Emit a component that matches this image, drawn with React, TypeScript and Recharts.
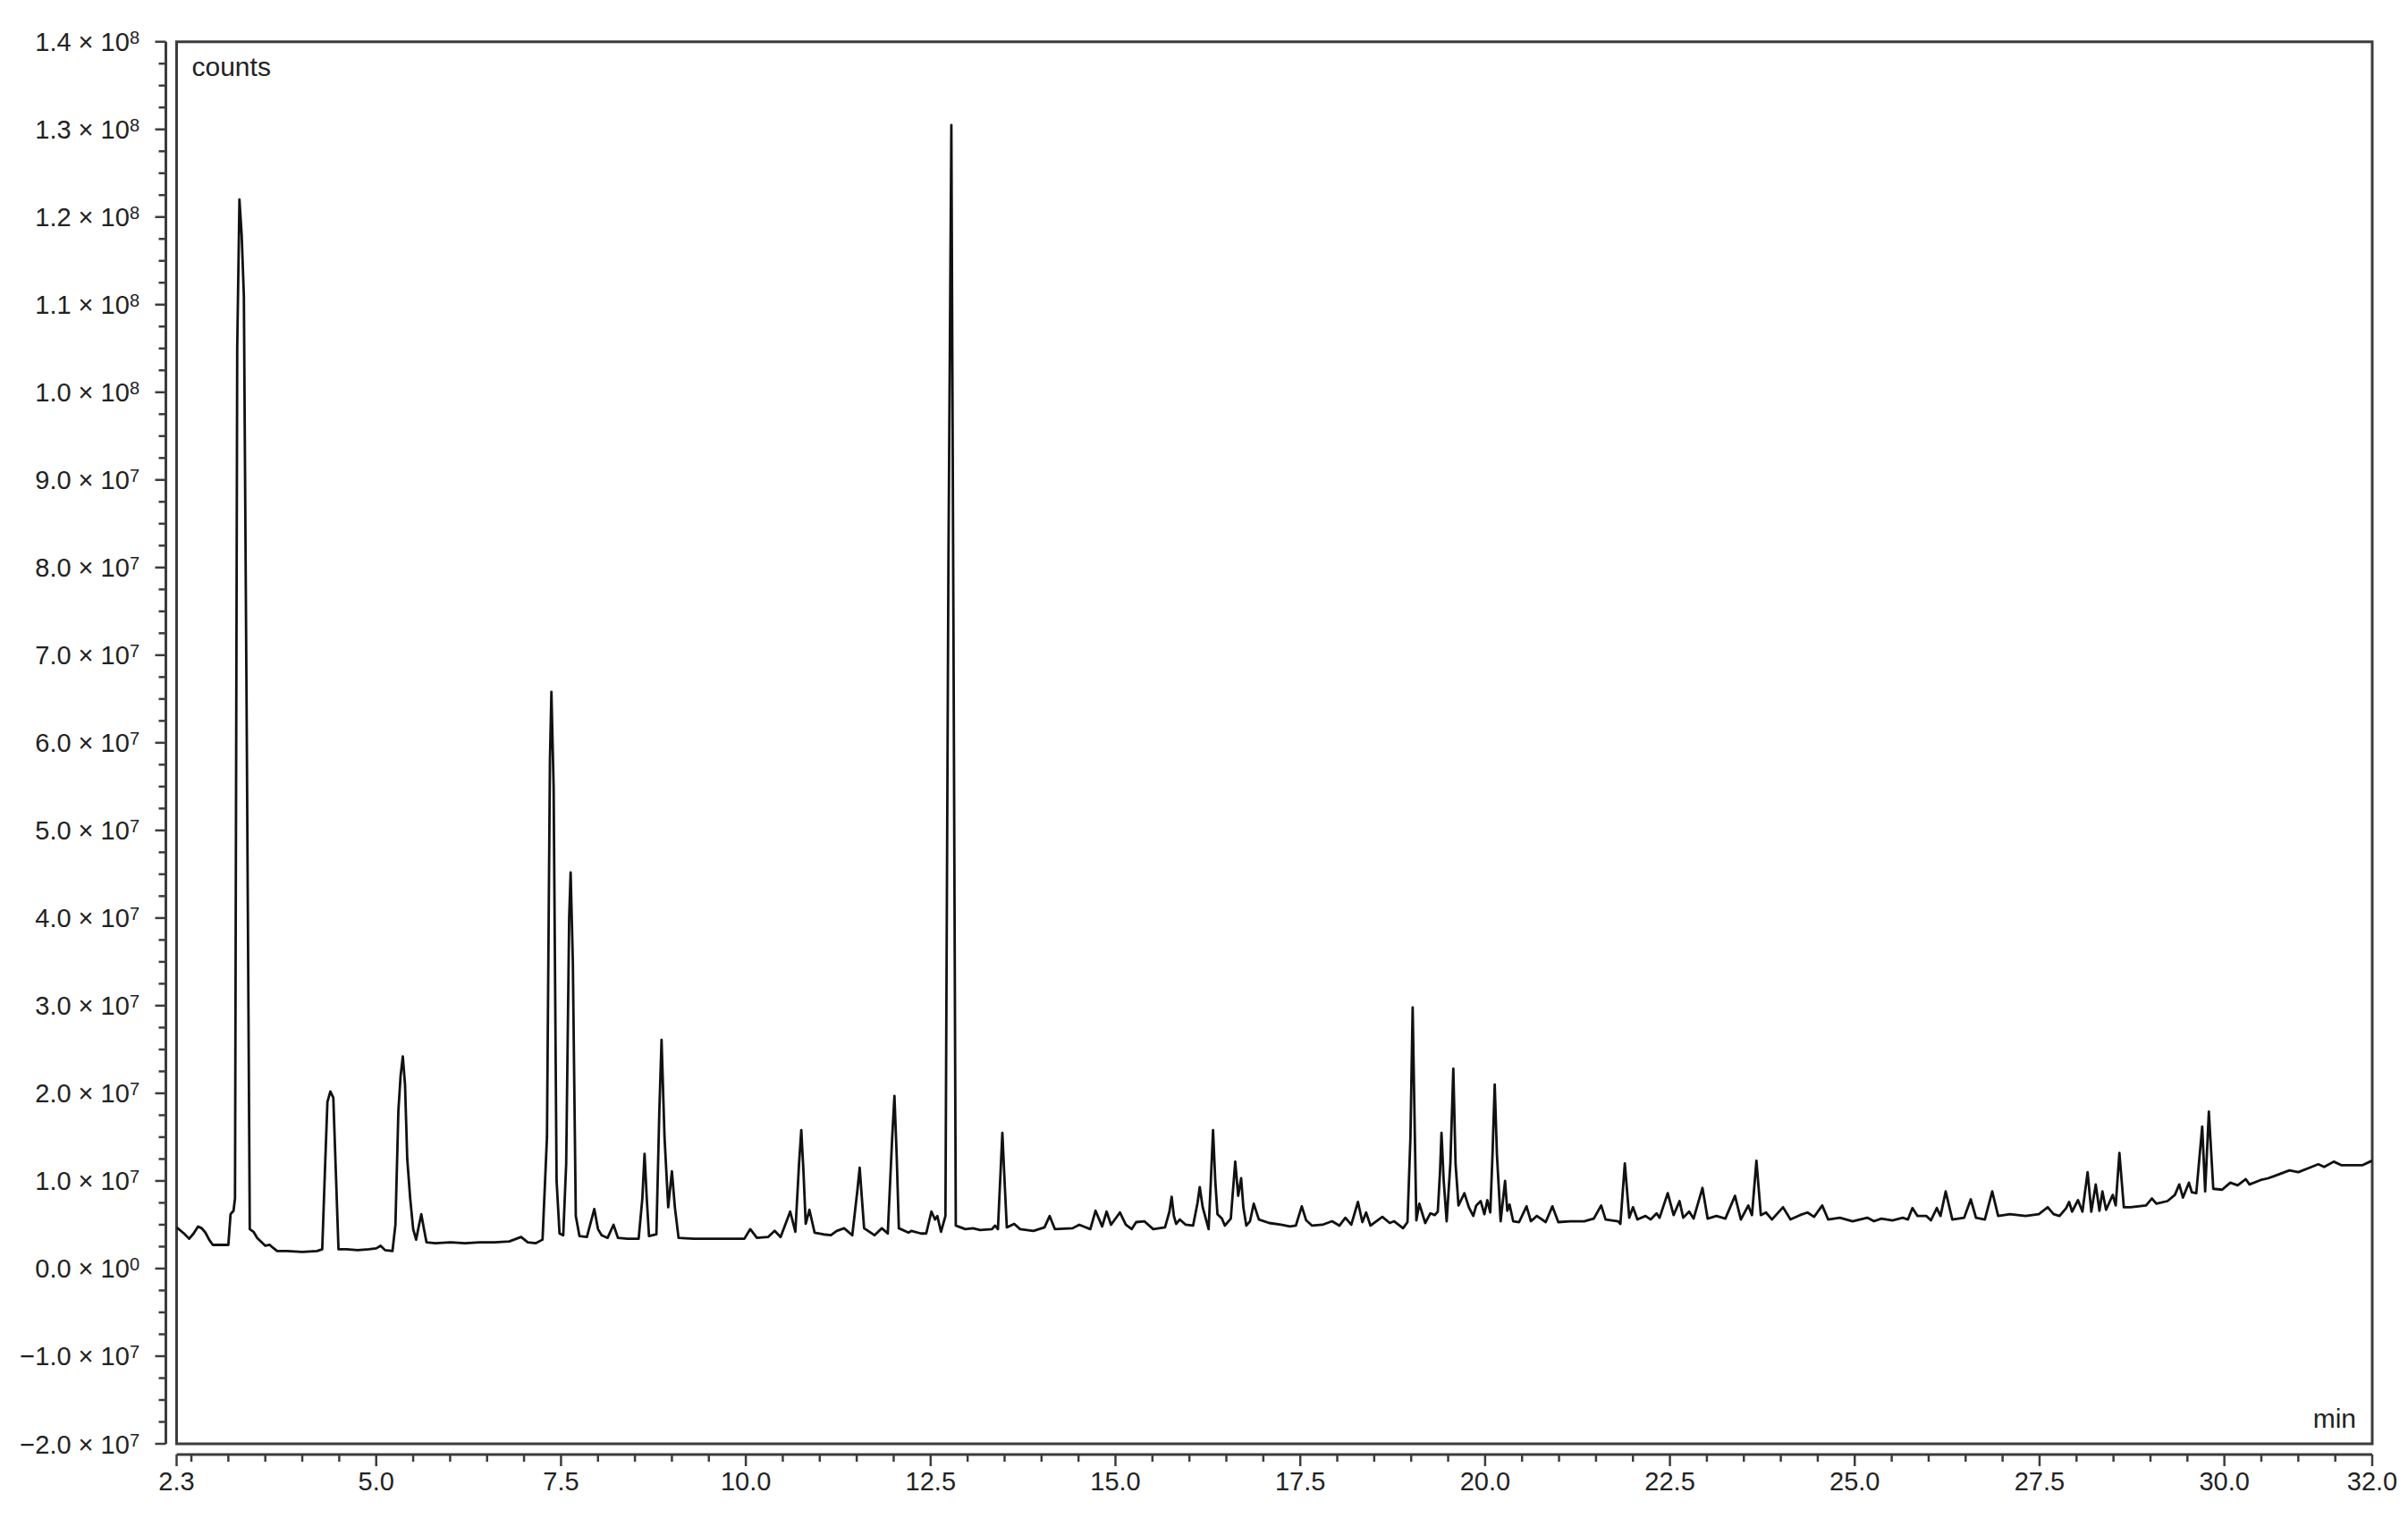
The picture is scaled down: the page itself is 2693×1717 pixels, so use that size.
import React from 'react';
import { LineChart, Line, XAxis, YAxis, ReferenceArea, Label } from 'recharts';

// retention time (min)
const times = [
  2.3, 2.4, 2.47, 2.53, 2.59, 2.64, 2.69, 2.74, 2.79, 2.9, 3.0, 3.03, 3.07, 3.09, 3.12, 3.15, 3.18, 3.21, 3.25, 3.29,
  3.34, 3.39, 3.45, 3.5, 3.56, 3.6, 3.66, 3.8, 4.0, 4.2, 4.27, 4.31, 4.34, 4.38, 4.42, 4.45, 4.49, 4.6, 4.75, 4.9,
  5.0, 5.06, 5.12, 5.22, 5.26, 5.3, 5.33, 5.36, 5.39, 5.42, 5.46, 5.5, 5.54, 5.58, 5.61, 5.64, 5.68, 5.8, 6.0, 6.2,
  6.4, 6.6, 6.8, 6.96, 7.05, 7.16, 7.25, 7.31, 7.35, 7.37, 7.4, 7.44, 7.48, 7.53, 7.57, 7.61, 7.63, 7.66, 7.7, 7.75,
  7.85, 7.95, 8.0, 8.05, 8.13, 8.21, 8.27, 8.4, 8.55, 8.6, 8.63, 8.66, 8.69, 8.79, 8.83, 8.86, 8.9, 8.95, 9.0, 9.04,
  9.09, 9.3, 9.5, 9.7, 9.98, 10.06, 10.15, 10.3, 10.39, 10.47, 10.6, 10.67, 10.72, 10.75, 10.78, 10.81, 10.86, 10.93, 11.05, 11.15,
  11.23, 11.33, 11.44, 11.51, 11.54, 11.57, 11.6, 11.74, 11.84, 11.92, 11.98, 12.01, 12.04, 12.07, 12.2, 12.24, 12.37, 12.44, 12.51, 12.56,
  12.59, 12.64, 12.7, 12.74, 12.78, 12.81, 12.84, 12.97, 13.07, 13.17, 13.33, 13.37, 13.41, 13.44, 13.47, 13.5, 13.53, 13.63, 13.71, 13.89,
  14.04, 14.11, 14.18, 14.42, 14.51, 14.66, 14.73, 14.82, 14.88, 14.94, 15.06, 15.14, 15.22, 15.28, 15.39, 15.51, 15.67, 15.73, 15.76, 15.79,
  15.82, 15.87, 15.95, 16.05, 16.11, 16.14, 16.18, 16.26, 16.29, 16.32, 16.35, 16.38, 16.44, 16.48, 16.56, 16.62, 16.66, 16.7, 16.73, 16.77,
  16.82, 16.87, 16.94, 17.08, 17.24, 17.36, 17.44, 17.52, 17.58, 17.66, 17.8, 17.93, 18.03, 18.11, 18.19, 18.28, 18.34, 18.39, 18.45, 18.61,
  18.71, 18.77, 18.89, 18.95, 18.99, 19.02, 19.05, 19.07, 19.11, 19.19, 19.26, 19.32, 19.36, 19.39, 19.41, 19.44, 19.48, 19.53, 19.57, 19.6,
  19.64, 19.72, 19.78, 19.84, 19.88, 19.94, 19.99, 20.03, 20.07, 20.1, 20.13, 20.16, 20.21, 20.27, 20.3, 20.33, 20.38, 20.46, 20.56, 20.62,
  20.7, 20.82, 20.91, 20.99, 21.15, 21.34, 21.47, 21.57, 21.63, 21.8, 21.83, 21.89, 21.95, 22.0, 22.06, 22.17, 22.24, 22.32, 22.36, 22.47,
  22.55, 22.63, 22.68, 22.76, 22.82, 22.94, 23.01, 23.13, 23.25, 23.38, 23.46, 23.56, 23.61, 23.67, 23.73, 23.8, 23.88, 24.03, 24.13, 24.26,
  24.36, 24.45, 24.56, 24.64, 24.8, 24.97, 25.17, 25.26, 25.36, 25.51, 25.65, 25.72, 25.78, 25.85, 25.97, 26.03, 26.11, 26.16, 26.23, 26.32,
  26.48, 26.57, 26.64, 26.76, 26.86, 26.94, 27.1, 27.31, 27.49, 27.61, 27.69, 27.77, 27.86, 27.9, 27.94, 28.02, 28.08, 28.15, 28.2, 28.26,
  28.31, 28.35, 28.4, 28.49, 28.53, 28.58, 28.64, 28.73, 28.94, 29.02, 29.08, 29.23, 29.33, 29.39, 29.44, 29.52, 29.56, 29.62, 29.7, 29.74,
  29.79, 29.85, 29.97, 30.08, 30.18, 30.29, 30.34, 30.49, 30.59, 30.72, 30.88, 31.0, 31.15, 31.27, 31.35, 31.48, 31.58, 31.74, 31.87, 31.97,
  32.0,
];

// detector counts, in units of 1e7
const signal = [
  0.47, 0.4, 0.34, 0.4, 0.48, 0.46, 0.41, 0.33, 0.27, 0.27, 0.27, 0.62, 0.66, 0.8, 10.5, 12.2, 11.8, 11.1, 6.0, 0.45,
  0.42, 0.35, 0.3, 0.26, 0.27, 0.24, 0.2, 0.2, 0.19, 0.2, 0.22, 1.2, 1.9, 2.02, 1.95, 1.2, 0.22, 0.22, 0.21, 0.22,
  0.23, 0.26, 0.21, 0.2, 0.5, 1.8, 2.2, 2.42, 2.1, 1.25, 0.8, 0.45, 0.33, 0.5, 0.62, 0.48, 0.3, 0.29, 0.3, 0.29,
  0.3, 0.3, 0.31, 0.36, 0.3, 0.29, 0.33, 1.5, 5.8, 6.58, 5.5, 1.0, 0.4, 0.38, 1.2, 4.0, 4.52, 3.5, 0.6, 0.37,
  0.36, 0.68, 0.45, 0.38, 0.35, 0.5, 0.35, 0.34, 0.34, 0.8, 1.31, 0.8, 0.37, 0.39, 1.8, 2.61, 1.5, 0.7, 1.11, 0.7,
  0.35, 0.34, 0.34, 0.34, 0.34, 0.45, 0.35, 0.36, 0.43, 0.36, 0.65, 0.42, 1.2, 1.58, 1.1, 0.51, 0.67, 0.41, 0.39, 0.38,
  0.43, 0.46, 0.38, 0.9, 1.15, 0.8, 0.46, 0.38, 0.46, 0.4, 1.5, 1.97, 1.3, 0.46, 0.41, 0.43, 0.4, 0.4, 0.65, 0.56,
  0.6, 0.42, 0.6, 8.0, 13.05, 7.0, 0.49, 0.45, 0.46, 0.44, 0.45, 0.49, 0.45, 1.0, 1.55, 1.0, 0.47, 0.51, 0.45, 0.43,
  0.47, 0.6, 0.45, 0.46, 0.5, 0.45, 0.66, 0.48, 0.65, 0.5, 0.64, 0.5, 0.45, 0.53, 0.54, 0.45, 0.47, 0.65, 0.82, 0.6,
  0.51, 0.56, 0.5, 0.49, 0.75, 0.93, 0.7, 0.45, 1.0, 1.58, 1.0, 0.62, 0.57, 0.49, 0.57, 1.22, 0.83, 1.03, 0.7, 0.49,
  0.54, 0.74, 0.56, 0.52, 0.5, 0.48, 0.49, 0.71, 0.55, 0.49, 0.5, 0.54, 0.49, 0.58, 0.5, 0.76, 0.53, 0.64, 0.49, 0.59,
  0.52, 0.54, 0.46, 0.53, 1.5, 2.98, 1.5, 0.55, 0.74, 0.52, 0.63, 0.61, 0.65, 1.1, 1.55, 1.0, 0.54, 1.2, 2.28, 1.2,
  0.72, 0.86, 0.7, 0.6, 0.72, 0.77, 0.62, 0.78, 0.64, 1.3, 2.1, 1.3, 0.54, 1.0, 0.66, 0.73, 0.54, 0.53, 0.71, 0.54,
  0.6, 0.53, 0.71, 0.53, 0.54, 0.54, 0.57, 0.72, 0.56, 0.54, 0.51, 1.2, 0.58, 0.7, 0.56, 0.6, 0.56, 0.63, 0.58, 0.86,
  0.61, 0.77, 0.58, 0.65, 0.57, 0.92, 0.57, 0.6, 0.57, 0.83, 0.56, 0.72, 0.61, 1.23, 0.61, 0.64, 0.56, 0.7, 0.56, 0.61,
  0.64, 0.59, 0.72, 0.56, 0.58, 0.54, 0.58, 0.54, 0.57, 0.55, 0.58, 0.56, 0.69, 0.6, 0.6, 0.55, 0.69, 0.6, 0.88, 0.56,
  0.58, 0.79, 0.58, 0.56, 0.88, 0.6, 0.62, 0.6, 0.62, 0.7, 0.62, 0.6, 0.69, 0.76, 0.65, 0.78, 0.65, 1.1, 0.65, 0.96,
  0.66, 0.88, 0.67, 0.84, 0.72, 1.32, 0.7, 0.7, 0.72, 0.8, 0.74, 0.77, 0.84, 0.96, 0.81, 0.98, 0.87, 0.86, 1.62, 0.88,
  1.79, 0.91, 0.9, 0.98, 0.95, 1.02, 0.96, 1.01, 1.03, 1.07, 1.12, 1.1, 1.15, 1.19, 1.16, 1.22, 1.18, 1.18, 1.18, 1.22,
  1.23,
];

const xMajorTicks = [2.3, 5, 7.5, 10, 12.5, 15, 17.5, 20, 22.5, 25, 27.5, 30, 32];
const xTickLabels = ['2.3', '5.0', '7.5', '10.0', '12.5', '15.0', '17.5', '20.0', '22.5', '25.0', '27.5', '30.0', '32.0'];

const yMajorTicks = [-2, -1, 0, 1, 2, 3, 4, 5, 6, 7, 8, 9, 10, 11, 12, 13, 14];
const yTickMantissa = ['−2.0', '−1.0', '0.0', '1.0', '2.0', '3.0', '4.0', '5.0', '6.0', '7.0', '8.0', '9.0', '1.0', '1.1', '1.2', '1.3', '1.4'];
const yTickExponent = ['7', '7', '0', '7', '7', '7', '7', '7', '7', '7', '7', '7', '8', '8', '8', '8', '8'];

const CHART_W = 2677;
const CHART_H = 1701;
const MARGIN_TOP = 38.7;
const MARGIN_RIGHT = 32;
const Y_AXIS_W = 189.5;
const X_AXIS_H = 94;
const PLOT_W = CHART_W - Y_AXIS_W - MARGIN_RIGHT;
const PLOT_H = CHART_H - MARGIN_TOP - X_AXIS_H;
const GAP = 12;
const AXIS_COLOR = '#3c3c3c';
const FONT = '"Liberation Sans", Arial, Helvetica, sans-serif';

// minor ticks every 0.5 min, plus the labelled ones
const xTicks = [2.3, ...Array.from({ length: 60 }, (_, i) => 2.5 + i * 0.5)];
const yTicks = Array.from({ length: 65 }, (_, i) => -2 + i * 0.25);

const data = times.map((t, i) => ({ t, v: signal[i] }));

const near = (a: number, b: number) => Math.abs(a - b) < 1e-6;

const XTick = (props: any) => {
  const { x, y, payload } = props;
  const v = payload.value;
  const idx = xMajorTicks.findIndex((m) => near(m, v));
  const ay = y + GAP;
  const len = idx >= 0 ? 13 : 8;
  return (
    <g>
      {near(v, 2.3) && (
        <line x1={x} x2={x + PLOT_W} y1={ay} y2={ay} stroke={AXIS_COLOR} strokeWidth={3} />
      )}
      <line x1={x} x2={x} y1={ay} y2={ay + len} stroke={AXIS_COLOR} strokeWidth={2.5} />
      {idx >= 0 && (
        <text x={x} y={y + 52} textAnchor="middle" fontSize={29} fontFamily={FONT} fill="#222">
          {xTickLabels[idx]}
        </text>
      )}
    </g>
  );
};

const YTick = (props: any) => {
  const { x, y, payload } = props;
  const v = payload.value;
  const idx = yMajorTicks.findIndex((m) => near(m, v));
  const ax = x - GAP;
  const len = idx >= 0 ? 12 : 8;
  return (
    <g>
      {near(v, -2) && (
        <line x1={ax} x2={ax} y1={y} y2={y - PLOT_H} stroke={AXIS_COLOR} strokeWidth={3} />
      )}
      <line x1={ax - len} x2={ax} y1={y} y2={y} stroke={AXIS_COLOR} strokeWidth={2.5} />
      {idx >= 0 && (
        <text x={ax - 29.5} y={y + 10.5} textAnchor="end" fontSize={29} fontFamily={FONT} fill="#222">
          <tspan>{yTickMantissa[idx] + ' \u00d7 10'}</tspan>
          <tspan dy={-8} fontSize={20}>{yTickExponent[idx]}</tspan>
        </text>
      )}
    </g>
  );
};

export default function App() {
  return (
    <LineChart
      width={CHART_W}
      height={CHART_H}
      data={data}
      margin={{ top: MARGIN_TOP, right: MARGIN_RIGHT, bottom: 0, left: 0 }}
      style={{ fontFamily: FONT }}
    >
      <XAxis
        type="number"
        dataKey="t"
        domain={[2.3, 32]}
        ticks={xTicks}
        interval={0}
        allowDataOverflow
        axisLine={false}
        tickLine={false}
        tickSize={0}
        tickMargin={0}
        height={X_AXIS_H}
        tick={(p: any) => <XTick {...p} />}
      />
      <YAxis
        type="number"
        domain={[-2, 14]}
        ticks={yTicks}
        interval={0}
        allowDataOverflow
        axisLine={false}
        tickLine={false}
        tickSize={0}
        tickMargin={0}
        width={Y_AXIS_W}
        tick={(p: any) => <YTick {...p} />}
      />
      <ReferenceArea x1={2.3} x2={32} y1={-2} y2={14} fill="none" stroke={AXIS_COLOR} strokeWidth={3} ifOverflow="visible">
        <Label value="counts" position="insideTopLeft" offset={17} fontSize={30} fill="#222" fontFamily={FONT} />
        <Label value="min" position="insideBottomRight" offset={18} fontSize={30} fill="#222" fontFamily={FONT} />
      </ReferenceArea>
      <Line
        type="linear"
        dataKey="v"
        stroke="#111"
        strokeWidth={2.8}
        strokeLinejoin="round"
        dot={false}
        isAnimationActive={false}
      />
    </LineChart>
  );
}
